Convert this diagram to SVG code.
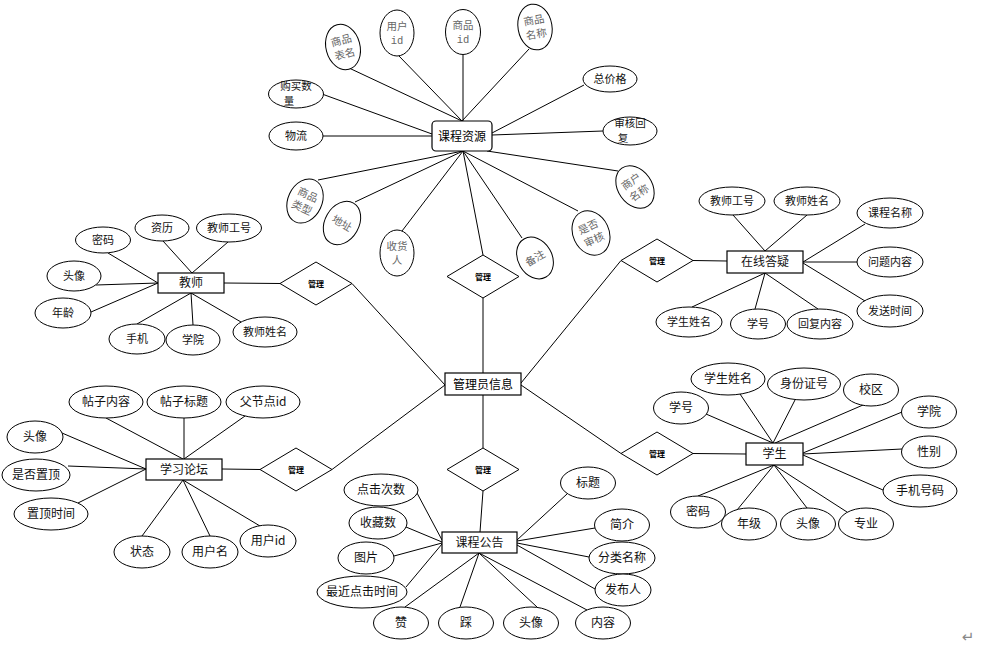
<svg xmlns="http://www.w3.org/2000/svg" width="984" height="653" viewBox="0 0 984 653">
<style>
.bg{fill:#fff}
.e{fill:#fff;stroke:#000;stroke-width:1}
.b{fill:#fff;stroke:#000;stroke-width:1.2}
.d{fill:#fff;stroke:#000;stroke-width:1}
.c line{stroke:#000;stroke-width:1}
text{font-family:"Noto Sans CJK SC","Noto Sans",sans-serif;text-anchor:middle}
.t{font-size:12px;fill:#111}
.s{font-size:11px;fill:#111}
.s2{font-size:10.5px;fill:#111}
.g{font-size:10.5px;fill:#666}
.m{font-family:"Liberation Mono",monospace;font-size:10.5px;fill:#666}
.dt{font-size:8px;font-weight:bold;fill:#000}
.bt{font-size:12px;fill:#000}
</style>
<rect class="bg" x="0" y="0" width="984" height="653"/>
<g id="connectors" class="c">
<line x1="349" y1="68" x2="462" y2="121"/>
<line x1="399" y1="56" x2="462" y2="121"/>
<line x1="463" y1="55" x2="463" y2="121"/>
<line x1="529" y1="49" x2="462" y2="121"/>
<line x1="584" y1="85" x2="492" y2="133"/>
<line x1="603" y1="131" x2="492" y2="135"/>
<line x1="322" y1="94" x2="432" y2="134"/>
<line x1="323" y1="136" x2="432" y2="136"/>
<line x1="318" y1="180" x2="463" y2="151"/>
<line x1="355" y1="202" x2="463" y2="151"/>
<line x1="402" y1="231" x2="463" y2="151"/>
<line x1="463" y1="151" x2="483" y2="255"/>
<line x1="522" y1="238" x2="463" y2="151"/>
<line x1="578" y1="211" x2="463" y2="151"/>
<line x1="618" y1="171" x2="487" y2="151"/>
<line x1="483" y1="298" x2="483" y2="373"/>
<line x1="483" y1="395" x2="483" y2="448"/>
<line x1="352" y1="283.5" x2="445" y2="385"/>
<line x1="332" y1="469.5" x2="445" y2="385"/>
<line x1="621" y1="260.5" x2="521" y2="383"/>
<line x1="521" y1="385" x2="621" y2="453.5"/>
<line x1="224" y1="283" x2="280" y2="283.5"/>
<line x1="108" y1="253" x2="158" y2="283"/>
<line x1="163" y1="241" x2="192" y2="273"/>
<line x1="228" y1="242" x2="192" y2="273"/>
<line x1="96" y1="285" x2="158" y2="283"/>
<line x1="91" y1="312" x2="158" y2="283"/>
<line x1="137" y1="324" x2="191" y2="293"/>
<line x1="193" y1="325" x2="191" y2="293"/>
<line x1="241" y1="322" x2="191" y2="293"/>
<line x1="693" y1="260.5" x2="727" y2="261"/>
<line x1="733" y1="215" x2="765" y2="251"/>
<line x1="807" y1="215" x2="765" y2="251"/>
<line x1="865" y1="224" x2="803" y2="262"/>
<line x1="857" y1="262" x2="803" y2="262"/>
<line x1="865" y1="301" x2="803" y2="263"/>
<line x1="692" y1="307" x2="765" y2="273"/>
<line x1="755" y1="309" x2="765" y2="273"/>
<line x1="818" y1="309" x2="765" y2="273"/>
<line x1="222" y1="469" x2="260" y2="469.5"/>
<line x1="106" y1="418" x2="183" y2="459"/>
<line x1="184" y1="418" x2="184" y2="459"/>
<line x1="245" y1="416" x2="184" y2="459"/>
<line x1="62" y1="433" x2="146" y2="469"/>
<line x1="68" y1="466" x2="146" y2="469"/>
<line x1="78" y1="503" x2="146" y2="469"/>
<line x1="142" y1="536" x2="183" y2="480"/>
<line x1="210" y1="536" x2="183" y2="480"/>
<line x1="260" y1="526" x2="183" y2="480"/>
<line x1="693" y1="453.5" x2="746" y2="454"/>
<line x1="706" y1="414" x2="773" y2="443"/>
<line x1="740" y1="394" x2="773" y2="443"/>
<line x1="795" y1="400" x2="773" y2="443"/>
<line x1="863" y1="405" x2="775" y2="443"/>
<line x1="902" y1="412" x2="803" y2="453"/>
<line x1="902" y1="449" x2="803" y2="454"/>
<line x1="883" y1="490" x2="803" y2="455"/>
<line x1="698" y1="496" x2="774" y2="465"/>
<line x1="737" y1="510" x2="774" y2="465"/>
<line x1="807" y1="508" x2="774" y2="465"/>
<line x1="847" y1="512" x2="774" y2="465"/>
<line x1="483" y1="491" x2="480" y2="532"/>
<line x1="417" y1="493" x2="442" y2="540"/>
<line x1="406" y1="527" x2="442" y2="542"/>
<line x1="394" y1="556" x2="442" y2="543"/>
<line x1="406" y1="587" x2="442" y2="544"/>
<line x1="405" y1="607" x2="479" y2="553"/>
<line x1="460" y1="607" x2="479" y2="553"/>
<line x1="537" y1="607" x2="479" y2="553"/>
<line x1="587" y1="610" x2="479" y2="553"/>
<line x1="567" y1="494" x2="517" y2="540"/>
<line x1="595" y1="528" x2="517" y2="541"/>
<line x1="589" y1="557" x2="517" y2="543"/>
<line x1="595" y1="589" x2="517" y2="545"/>
</g>

<!-- Central entity -->
<g id="admin"><rect class="b" x="445" y="373" width="76" height="22"/><text class="bt" x="483" y="388.5">管理员信息</text></g>

<!-- Relationship diamonds -->
<g id="rel-resource"><polygon class="d" points="447,276.5 483,255 519,276.5 483,298"/><text class="dt" x="483" y="279.5">管理</text></g>
<g id="rel-notice"><polygon class="d" points="447,469.5 483,448 519,469.5 483,491"/><text class="dt" x="483" y="472.5">管理</text></g>
<g id="rel-teacher"><polygon class="d" points="280,283.5 316,262 352,283.5 316,305"/><text class="dt" x="316" y="286.5">管理</text></g>
<g id="rel-forum"><polygon class="d" points="260,469.5 296,448 332,469.5 296,491"/><text class="dt" x="296" y="472.5">管理</text></g>
<g id="rel-qa"><polygon class="d" points="621,260.5 657,239 693,260.5 657,282"/><text class="dt" x="657" y="263.5">管理</text></g>
<g id="rel-student"><polygon class="d" points="621,453.5 657,432 693,453.5 657,475"/><text class="dt" x="657" y="456.5">管理</text></g>

<!-- 课程资源 -->
<g id="resource"><rect class="b" x="432" y="121" width="60" height="30" rx="4"/><text class="bt" x="462" y="140.5">课程资源</text></g>
<g id="r-biaoming" transform="translate(343,47) rotate(-15)"><ellipse class="e" cx="0" cy="0" rx="17" ry="23"/><text class="g" x="0" y="-3">商品</text><text class="g" x="0" y="11">表名</text></g>
<g id="r-userid" transform="translate(397,33)"><ellipse class="e" cx="0" cy="0" rx="17" ry="23"/><text class="g" x="0" y="-3">用户</text><text class="m" x="0" y="11">id</text></g>
<g id="r-goodsid" transform="translate(463,32)"><ellipse class="e" cx="0" cy="0" rx="17.5" ry="22.5"/><text class="g" x="0" y="-3">商品</text><text class="m" x="0" y="11">id</text></g>
<g id="r-goodsname" transform="translate(535,27) rotate(-10)"><ellipse class="e" cx="0" cy="0" rx="17" ry="23"/><text class="g" x="0" y="-3">商品</text><text class="g" x="0" y="11">名称</text></g>
<g id="r-price"><ellipse class="e" cx="610" cy="79" rx="27" ry="13"/><text class="s" x="610" y="83">总价格</text></g>
<g id="r-review"><ellipse class="e" cx="630" cy="131" rx="27" ry="14"/><text class="s2" x="630" y="127">审核回</text><text class="s2" x="623" y="142">复</text></g>
<g id="r-qty"><ellipse class="e" cx="296" cy="94" rx="27.5" ry="14"/><text class="s2" x="296" y="90">购买数</text><text class="s2" x="289" y="105">量</text></g>
<g id="r-logistics"><ellipse class="e" cx="296" cy="136" rx="27" ry="14"/><text class="s" x="296" y="140">物流</text></g>
<g id="r-type" transform="translate(305,201) rotate(25)"><ellipse class="e" cx="0" cy="0" rx="17" ry="23"/><text class="g" x="0" y="-3">商品</text><text class="g" x="0" y="11">类型</text></g>
<g id="r-addr" transform="translate(342,223) rotate(30)"><ellipse class="e" cx="0" cy="0" rx="17" ry="23"/><text class="g" x="0" y="4">地址</text></g>
<g id="r-receiver" transform="translate(397,253)"><ellipse class="e" cx="0" cy="0" rx="17" ry="23"/><text class="g" x="0" y="-3">收货</text><text class="g" x="0" y="11">人</text></g>
<g id="r-note" transform="translate(535,258) rotate(-30)"><ellipse class="e" cx="0" cy="0" rx="17" ry="22"/><text class="g" x="0" y="4">备注</text></g>
<g id="r-audited" transform="translate(591,233) rotate(-25)"><ellipse class="e" cx="0" cy="0" rx="18" ry="23"/><text class="g" x="0" y="-3">是否</text><text class="g" x="0" y="11">审核</text></g>
<g id="r-merchant" transform="translate(635,187) rotate(-35)"><ellipse class="e" cx="0" cy="0" rx="17" ry="23"/><text class="g" x="0" y="-3">商户</text><text class="g" x="0" y="11">名称</text></g>

<!-- 教师 -->
<g id="teacher"><rect class="b" x="158" y="273" width="66" height="20"/><text class="t" x="191" y="287">教师</text></g>
<g id="t-pwd"><ellipse class="e" cx="103" cy="240" rx="27.5" ry="13"/><text class="s" x="103" y="244">密码</text></g>
<g id="t-zili"><ellipse class="e" cx="162" cy="228" rx="27" ry="13"/><text class="s" x="162" y="232">资历</text></g>
<g id="t-no"><ellipse class="e" cx="229" cy="228" rx="32.5" ry="14"/><text class="s" x="229" y="232">教师工号</text></g>
<g id="t-avatar"><ellipse class="e" cx="74" cy="276" rx="27" ry="15"/><text class="s" x="74" y="280">头像</text></g>
<g id="t-age"><ellipse class="e" cx="63" cy="313" rx="28" ry="15"/><text class="s" x="63" y="317">年龄</text></g>
<g id="t-phone"><ellipse class="e" cx="137" cy="339" rx="28" ry="15"/><text class="s" x="137" y="343">手机</text></g>
<g id="t-college"><ellipse class="e" cx="193" cy="340" rx="27" ry="15"/><text class="s" x="193" y="344">学院</text></g>
<g id="t-name"><ellipse class="e" cx="265" cy="332" rx="32" ry="15"/><text class="s" x="265" y="336">教师姓名</text></g>

<!-- 在线答疑 -->
<g id="qa"><rect class="b" x="727" y="251" width="76" height="22"/><text class="t" x="765" y="266">在线答疑</text></g>
<g id="q-tno"><ellipse class="e" cx="732" cy="201" rx="33" ry="14"/><text class="s" x="732" y="205">教师工号</text></g>
<g id="q-tname"><ellipse class="e" cx="807" cy="201" rx="33" ry="14"/><text class="s" x="807" y="205">教师姓名</text></g>
<g id="q-course"><ellipse class="e" cx="890" cy="213" rx="33" ry="15"/><text class="s" x="890" y="217">课程名称</text></g>
<g id="q-question"><ellipse class="e" cx="890" cy="262" rx="33" ry="15"/><text class="s" x="890" y="266">问题内容</text></g>
<g id="q-time"><ellipse class="e" cx="890" cy="311" rx="33" ry="16"/><text class="s" x="890" y="315">发送时间</text></g>
<g id="q-sname"><ellipse class="e" cx="689" cy="322" rx="33" ry="15"/><text class="s" x="689" y="326">学生姓名</text></g>
<g id="q-sno"><ellipse class="e" cx="758" cy="324" rx="27.5" ry="15"/><text class="s" x="758" y="328">学号</text></g>
<g id="q-reply"><ellipse class="e" cx="820" cy="324" rx="33" ry="15"/><text class="s" x="820" y="328">回复内容</text></g>

<!-- 学习论坛 -->
<g id="forum"><rect class="b" x="146" y="459" width="76" height="21"/><text class="t" x="184" y="474">学习论坛</text></g>
<g id="f-content"><ellipse class="e" cx="106" cy="402" rx="37" ry="16"/><text class="t" x="106" y="406">帖子内容</text></g>
<g id="f-title"><ellipse class="e" cx="184" cy="402" rx="37" ry="16"/><text class="t" x="184" y="406">帖子标题</text></g>
<g id="f-parent"><ellipse class="e" cx="263" cy="402" rx="37" ry="16"/><text class="t" x="263" y="406">父节点id</text></g>
<g id="f-avatar"><ellipse class="e" cx="35" cy="437" rx="28" ry="16"/><text class="t" x="35" y="441">头像</text></g>
<g id="f-top"><ellipse class="e" cx="36" cy="475" rx="34" ry="16"/><text class="t" x="36" y="479">是否置顶</text></g>
<g id="f-toptime"><ellipse class="e" cx="51" cy="514" rx="37" ry="16"/><text class="t" x="51" y="518">置顶时间</text></g>
<g id="f-status"><ellipse class="e" cx="142" cy="552" rx="28" ry="16"/><text class="t" x="142" y="556">状态</text></g>
<g id="f-uname"><ellipse class="e" cx="210" cy="552" rx="28" ry="16"/><text class="t" x="210" y="556">用户名</text></g>
<g id="f-uid"><ellipse class="e" cx="268" cy="541" rx="28" ry="16"/><text class="t" x="268" y="545">用户id</text></g>

<!-- 学生 -->
<g id="student"><rect class="b" x="746" y="443" width="57" height="22"/><text class="t" x="774.5" y="458">学生</text></g>
<g id="s-no"><ellipse class="e" cx="681" cy="408" rx="27.5" ry="16"/><text class="t" x="681" y="412">学号</text></g>
<g id="s-name"><ellipse class="e" cx="728" cy="379" rx="37" ry="16"/><text class="t" x="728" y="383">学生姓名</text></g>
<g id="s-id"><ellipse class="e" cx="804" cy="384" rx="36.5" ry="16"/><text class="t" x="804" y="388">身份证号</text></g>
<g id="s-campus"><ellipse class="e" cx="871" cy="390" rx="27.5" ry="16"/><text class="t" x="871" y="394">校区</text></g>
<g id="s-college"><ellipse class="e" cx="929" cy="412" rx="27.5" ry="16"/><text class="t" x="929" y="416">学院</text></g>
<g id="s-gender"><ellipse class="e" cx="929" cy="452" rx="27.5" ry="16"/><text class="t" x="929" y="456">性别</text></g>
<g id="s-phone"><ellipse class="e" cx="920" cy="491" rx="37" ry="16"/><text class="t" x="920" y="495">手机号码</text></g>
<g id="s-pwd"><ellipse class="e" cx="698" cy="512" rx="27.5" ry="16"/><text class="t" x="698" y="516">密码</text></g>
<g id="s-grade"><ellipse class="e" cx="749" cy="524" rx="27.5" ry="16"/><text class="t" x="749" y="528">年级</text></g>
<g id="s-avatar"><ellipse class="e" cx="808" cy="524" rx="27.5" ry="16"/><text class="t" x="808" y="528">头像</text></g>
<g id="s-major"><ellipse class="e" cx="866" cy="524" rx="27.5" ry="16"/><text class="t" x="866" y="528">专业</text></g>

<!-- 课程公告 -->
<g id="notice"><rect class="b" x="442" y="532" width="75" height="21"/><text class="t" x="479.5" y="547">课程公告</text></g>
<g id="n-clicks"><ellipse class="e" cx="381" cy="490" rx="37" ry="16"/><text class="t" x="381" y="494">点击次数</text></g>
<g id="n-fav"><ellipse class="e" cx="378" cy="523" rx="29" ry="16"/><text class="t" x="378" y="527">收藏数</text></g>
<g id="n-pic"><ellipse class="e" cx="366" cy="558" rx="28" ry="16"/><text class="t" x="366" y="562">图片</text></g>
<g id="n-last"><ellipse class="e" cx="362" cy="592" rx="45" ry="16"/><text class="t" x="362" y="596">最近点击时间</text></g>
<g id="n-like"><ellipse class="e" cx="401" cy="623" rx="27.5" ry="16"/><text class="t" x="401" y="627">赞</text></g>
<g id="n-dislike"><ellipse class="e" cx="466" cy="623" rx="27.5" ry="16"/><text class="t" x="466" y="627">踩</text></g>
<g id="n-avatar"><ellipse class="e" cx="531" cy="623" rx="27.5" ry="16"/><text class="t" x="531" y="627">头像</text></g>
<g id="n-content"><ellipse class="e" cx="603" cy="623" rx="27.5" ry="16"/><text class="t" x="603" y="627">内容</text></g>
<g id="n-title"><ellipse class="e" cx="588" cy="483" rx="27.5" ry="16"/><text class="t" x="588" y="487">标题</text></g>
<g id="n-intro"><ellipse class="e" cx="622" cy="525" rx="27.5" ry="16"/><text class="t" x="622" y="529">简介</text></g>
<g id="n-cat"><ellipse class="e" cx="622" cy="558" rx="33" ry="16"/><text class="t" x="622" y="562">分类名称</text></g>
<g id="n-pub"><ellipse class="e" cx="623" cy="590" rx="28" ry="16"/><text class="t" x="623" y="594">发布人</text></g>

<text x="968" y="642" style="font-family:'DejaVu Sans',sans-serif;font-size:15px;fill:#888">↵</text>
</svg>
